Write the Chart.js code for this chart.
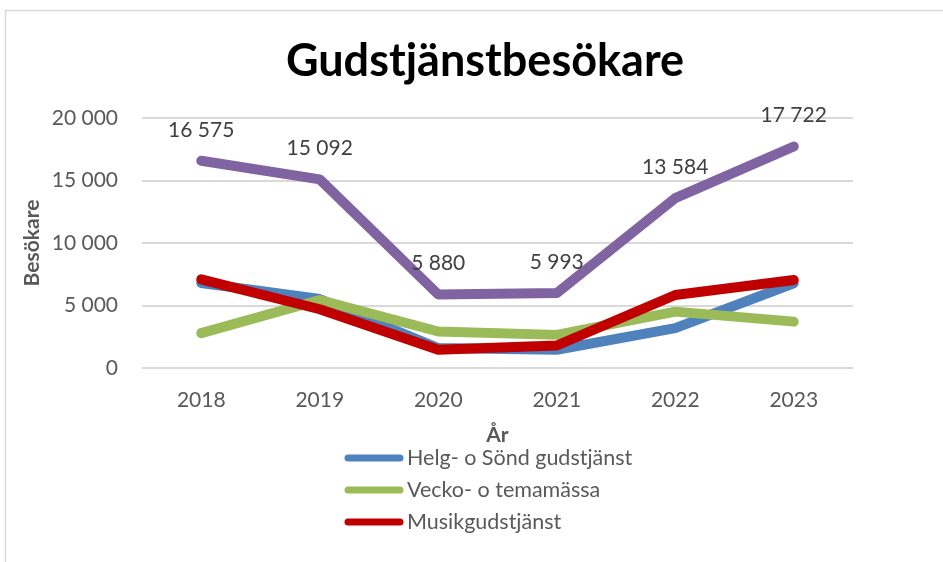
<!DOCTYPE html>
<html>
<head>
<meta charset="utf-8">
<script src="https://cdn.jsdelivr.net/npm/chart.js@4/dist/chart.umd.min.js"></script>
<style>
  html, body { margin: 0; padding: 0; background: #fff; }
  #wrap { width: 943px; height: 562px; }
</style>
</head>
<body>
<div id="wrap"><canvas id="chart" width="943" height="562"></canvas></div>
<script>
// Data
const years = ['2018', '2019', '2020', '2021', '2022', '2023'];
const helgSond = [6800, 5520, 1600, 1460, 3190, 6780];
const veckoTema = [2790, 5440, 2920, 2650, 4510, 3710];
const musik = [7090, 4700, 1460, 1800, 5840, 7040];
const totalt = [16575, 15092, 5880, 5993, 13584, 17722];
const seriesNames = ['Helg- o Sönd gudstjänst', 'Vecko- o temamässa', 'Musikgudstjänst', 'Totalt'];
const yTicks = [0, 5000, 10000, 15000, 20000];

const FONT = 'Lato, "Open Sans", sans-serif';

function fmt(v) {
    return String(v).replace(/\B(?=(\d{3})+(?!\d))/g, ' ');
}

// Ram runt diagrammet
const framePlugin = {
    id: 'frame',
    beforeDraw(chart) {
        const ctx = chart.ctx;
        ctx.save();
        ctx.fillStyle = '#fff';
        ctx.fillRect(0, 0, chart.width, chart.height);
        ctx.strokeStyle = '#d9d9d9';
        ctx.lineWidth = 1.5;
        ctx.strokeRect(5.5, 10.5, chart.width + 20, chart.height + 20);
        ctx.restore();
    }
};

// Dataetiketter för sista serien
const valueLabels = {
    id: 'valueLabels',
    afterDatasetsDraw(chart) {
        const ctx = chart.ctx;
        const meta = chart.getDatasetMeta(3);
        ctx.save();
        ctx.font = '21px ' + FONT;
        ctx.fillStyle = '#404040';
        ctx.textAlign = 'center';
        ctx.textBaseline = 'middle';
        meta.data.forEach((pt, i) => {
            ctx.fillText(fmt(totalt[i]), pt.x, pt.y - 31);
        });
        ctx.restore();
    }
};

// Lodrät förklaring under diagrammet
const stackedLegend = {
    id: 'stackedLegend',
    afterDraw(chart) {
        const ctx = chart.ctx;
        const x0 = 345, rowTop = 458, rowH = 32;
        ctx.save();
        ctx.font = '21.5px ' + FONT;
        ctx.textBaseline = 'middle';
        ctx.textAlign = 'left';
        [0, 1, 2].forEach((di, i) => {
            const ds = chart.data.datasets[di];
            const y = rowTop + i * rowH;
            ctx.strokeStyle = ds.borderColor;
            ctx.lineWidth = 7;
            ctx.lineCap = 'round';
            ctx.beginPath();
            ctx.moveTo(x0 + 3, y);
            ctx.lineTo(x0 + 55, y);
            ctx.stroke();
            ctx.fillStyle = '#595959';
            ctx.fillText(ds.label, x0 + 62, y);
        });
        ctx.restore();
    }
};

function lineSet(label, data, color, order) {
    return {
        label: label,
        data: data,
        borderColor: color,
        backgroundColor: color,
        borderWidth: 10,
        borderCapStyle: 'round',
        borderJoinStyle: 'round',
        pointRadius: 0,
        tension: 0,
        order: order
    };
}

new Chart(document.getElementById('chart'), {
    type: 'line',
    data: {
        labels: years,
        datasets: [
            lineSet(seriesNames[0], helgSond, '#4f81bd', 4),
            lineSet(seriesNames[1], veckoTema, '#9bbb59', 3),
            lineSet(seriesNames[2], musik, '#c00000', 2),
            lineSet(seriesNames[3], totalt, '#8064a2', 1)
        ]
    },
    options: {
        responsive: false,
        animation: false,
        layout: {
            padding: { left: 27, right: 0, top: 0, bottom: 114 }
        },
        plugins: {
            legend: { display: false },
            tooltip: { enabled: false },
            title: {
                display: true,
                text: 'Gudstjänstbesökare',
                color: '#000',
                font: { family: FONT, size: 45, weight: 'bold', lineHeight: 1.2 },
                padding: { top: 34, bottom: 30 }
            }
        },
        scales: {
            x: {
                offset: true,
                grid: { display: false, drawTicks: false },
                border: { display: false },
                ticks: {
                    color: '#595959',
                    font: { family: FONT, size: 21 },
                    padding: 20,
                    maxRotation: 0
                },
                title: {
                    display: true,
                    text: 'År',
                    color: '#595959',
                    font: { family: FONT, size: 21, weight: 'bold', lineHeight: 1.2 },
                    padding: 0
                },
                afterFit(scale) { scale.height = 80; }
            },
            y: {
                min: 0,
                max: 20000,
                afterBuildTicks(scale) {
                    scale.ticks = yTicks.map(v => ({ value: v }));
                },
                grid: { color: '#d9d9d9', lineWidth: 2, drawTicks: false },
                border: { display: false },
                ticks: {
                    color: '#595959',
                    font: { family: FONT, size: 21 },
                    padding: 24,
                    callback: (v) => fmt(v)
                },
                title: {
                    display: true,
                    text: 'Besökare',
                    color: '#595959',
                    font: { family: FONT, size: 21, weight: 'bold', lineHeight: 0.5 },
                    padding: 0
                },
                afterFit(scale) { scale.width = 115; }
            },
            yRight: {
                position: 'right',
                display: true,
                grid: { display: false },
                border: { display: false },
                ticks: { display: false },
                afterFit(scale) { scale.width = 90; }
            }
        }
    },
    plugins: [framePlugin, valueLabels, stackedLegend]
});
</script>
</body>
</html>
